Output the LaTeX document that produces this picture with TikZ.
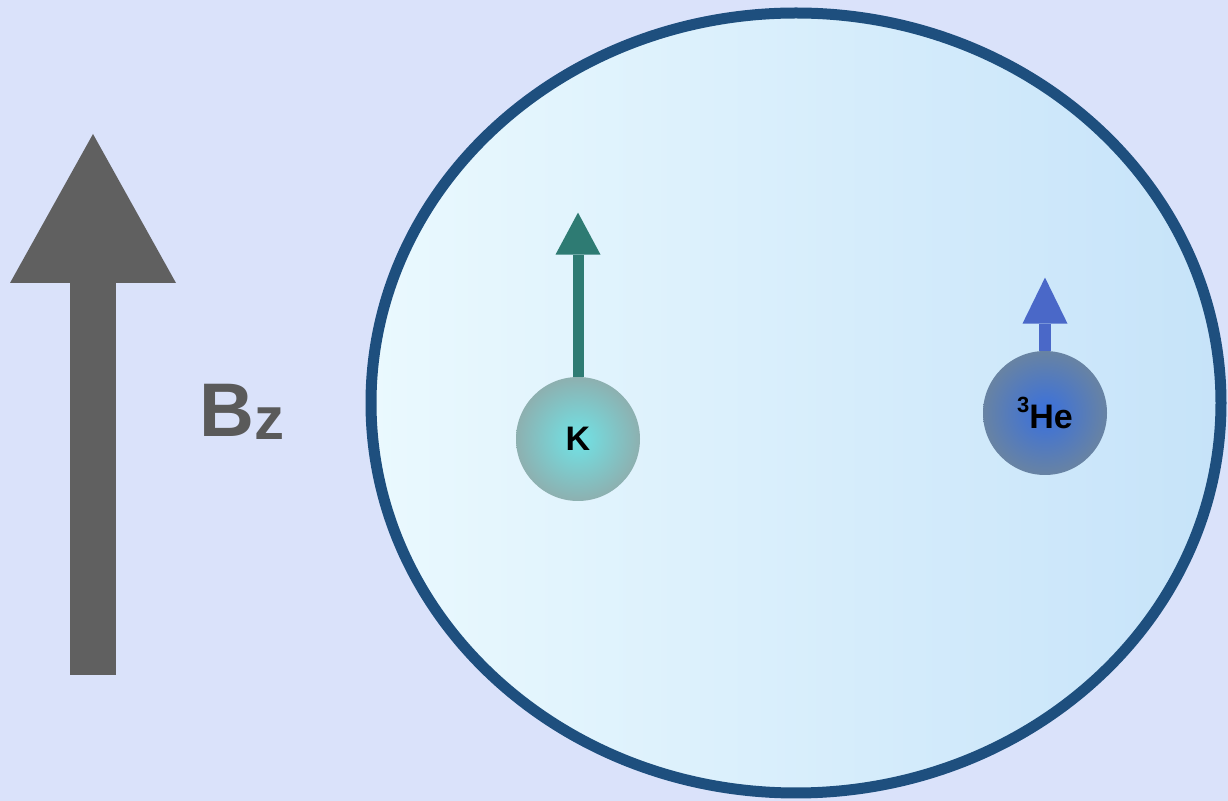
\documentclass[tikz,border=0pt]{standalone}
\usepackage{fontspec}
\setmainfont{Liberation Sans}
\usepackage{tikz}
\usetikzlibrary{arrows.meta,positioning}
\definecolor{lavender}{HTML}{DAE2FA}
\definecolor{cellrim}{HTML}{1E4F7E}
\definecolor{cellleft}{HTML}{EAF9FE}
\definecolor{cellright}{HTML}{C6E3F9}
\definecolor{fieldgray}{HTML}{606060}
\definecolor{bzgray}{HTML}{5A5A5A}
\definecolor{kteal}{HTML}{2E7B73}
\definecolor{kout}{HTML}{8DB0B0}
\definecolor{kin}{HTML}{70E3E6}
\definecolor{heblue}{HTML}{4A68C8}
\definecolor{heout}{HTML}{6883A3}
\definecolor{hein}{HTML}{3970DE}

\begin{document}
\begin{tikzpicture}[x=0.5pt, y=-0.5pt,
  cell/.style={draw=cellrim, line width=5.5pt, left color=cellleft, right color=cellright},
  atom/.style={circle, minimum size=62pt, inner sep=0pt,
               font=\fontsize{17}{19}\selectfont\bfseries, text=black},
  field/.style={-{Triangle[length=74.5pt, width=83pt, line width=0pt]},
                line width=23pt, draw=fieldgray},
  kspin/.style={-{Triangle[length=21pt, width=22.5pt, line width=0pt]},
                line width=5.5pt, draw=kteal},
  hespin/.style={-{Triangle[length=23pt, width=22.5pt, line width=0pt]},
                 line width=6pt, draw=heblue},
  lbl/.style={font=\fontsize{38}{40}\selectfont\bfseries, text=bzgray, inner sep=0pt},
]
  \fill[lavender] (0,0) rectangle (1228,801);
  \useasboundingbox (0,0) rectangle (1228,801);
  % field arrow and label
  \coordinate (b0) at (93,675); \coordinate (b1) at (93,134);
  \draw[field] (b0) -- (b1);
  \node[lbl, anchor=base west] (bz) at (199,437)
    {B\raisebox{-1.5pt}{\fontsize{30}{32}\selectfont z}};
  % vapour cell
  \path[cell] (796,403) ellipse [x radius=425, y radius=390];
  % atoms
  \node[atom, shade, inner color=kin, outer color=kout] (k) at (578,439) {K};
  \node[atom, shade, inner color=hein, outer color=heout] (he) at (1045,413)
    {\raisebox{0.45em}{\fontsize{11}{13}\selectfont 3}He};
  \coordinate[above=82pt of k.north] (kt);
  \coordinate[above=36.5pt of he.north] (het);
  \draw[kspin] (k.north) -- (kt);
  \draw[hespin] (he.north) -- (het);
\end{tikzpicture}
\end{document}
